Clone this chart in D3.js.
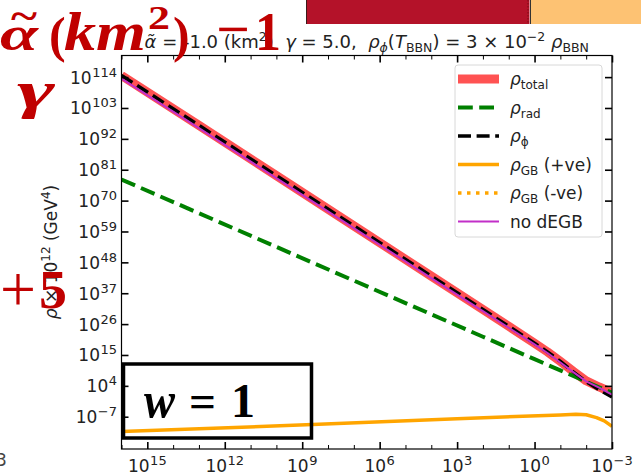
<!DOCTYPE html>
<html><head><meta charset="utf-8">
<script src="https://cdn.jsdelivr.net/npm/d3@7"></script>
<style>body{margin:0;background:#fff}svg{display:block}</style>
</head><body>
<svg id="chart" width="641" height="476"></svg>
<script>
// Energy densities vs temperature, stored as log10 values (T in GeV, rho x 1e12 in GeV^4)
const logT      = [16, 13, 10, 7, 4, 2, 1, 0, -0.5, -1, -1.5, -2, -2.5, -3];
const rhoTotal  = [114.6, 96.8, 78.9, 61.0, 43.1, 31.2, 25.2, 19.2, 16.1, 12.7, 9.15, 5.8, 3.6, 1.6];
const rhoRad    = [77.5, 65.5, 53.5, 41.5, 29.5, 21.5, 17.5, 13.5, 11.5, 9.5, 7.5, 5.5, 3.5, 1.6];
const rhoPhi    = [114.6, 96.8, 78.9, 61.0, 43.1, 31.2, 25.2, 19.2, 16.1, 12.7, 9.0, 5.5, 2.6, 0.0];
const rhoNoDEGB = [113.5, 95.8, 78.0, 60.2, 42.4, 30.6, 24.7, 18.8, 15.7, 12.3, 8.9, 5.6, 3.4, 0.9];
const logTGB    = [16, 8.6, 3, -1, -1.6, -2, -2.4, -2.7, -3];
const rhoGBpos  = [-12.3, -9.8, -7.7, -6.35, -6.1, -6.3, -7.3, -8.5, -10.4];

const xMajorExps = [15, 12, 9, 6, 3, 0, -3];
const xMinorExps = d3.range(16, -4, -1).filter(e => !xMajorExps.includes(e));
const yMajorExps = [-7, 4, 15, 26, 37, 48, 59, 70, 81, 92, 103, 114];

const legendItems = [
  {sym: "ρ", sub: "total", rest: "",       key: "total"},
  {sym: "ρ", sub: "rad",   rest: "",       key: "rad"},
  {sym: "ρ", sub: "ϕ",     rest: "",       key: "phi"},
  {sym: "ρ", sub: "GB",    rest: " (+ve)", key: "gbp"},
  {sym: "ρ", sub: "GB",    rest: " (-ve)", key: "gbn"},
  {sym: "",  sub: "",      rest: "no dEGB", key: "nodegb"}
];

const styles = {
  total:  {stroke: "#ff5252", width: 9,   dash: null},
  rad:    {stroke: "#008000", width: 4,   dash: "14.8,6.4"},
  phi:    {stroke: "#000000", width: 3.5, dash: "13,5.6"},
  gbp:    {stroke: "#ffa500", width: 3.5, dash: null},
  gbn:    {stroke: "#ffa500", width: 3.5, dash: "3.5,5.5"},
  nodegb: {stroke: "#c22fc8", width: 2,   dash: null}
};

const FONT = "'DejaVu Sans', sans-serif";
const svg = d3.select("#chart");
const L = 121.5, R = 612, T = 55.5, B = 449;

const x = d3.scaleLog().domain([1e16, 1e-3]).range([L, R]);
const y = d3.scaleLog().domain([Math.pow(10, -18.5), Math.pow(10, 121.7)]).range([B, T]);

svg.append("defs").append("clipPath").attr("id", "plotclip")
  .append("rect").attr("x", L).attr("y", T).attr("width", R - L).attr("height", B - T);

const plot = svg.append("g").attr("clip-path", "url(#plotclip)");
const line = d3.line().x(d => x(Math.pow(10, d[0]))).y(d => y(Math.pow(10, d[1])));

function drawSeries(ts, vals, key) {
  const s = styles[key];
  plot.append("path").datum(ts.map((t, i) => [t, vals[i]]))
    .attr("d", line).attr("fill", "none")
    .attr("stroke", s.stroke).attr("stroke-width", s.width)
    .attr("stroke-dasharray", s.dash)
    .attr("stroke-linejoin", "round");
}
drawSeries(logT, rhoTotal, "total");
drawSeries(logT, rhoRad, "rad");
drawSeries(logT, rhoPhi, "phi");
drawSeries(logTGB, rhoGBpos, "gbp");
drawSeries(logT, rhoNoDEGB, "nodegb");

// frame
svg.append("rect").attr("x", L).attr("y", T).attr("width", R - L).attr("height", B - T)
  .attr("fill", "none").attr("stroke", "#000").attr("stroke-width", 1.2);

// ticks (inward on all four sides)
function ticks(axisGen, transform, vals, len, w) {
  const g = svg.append("g").attr("transform", transform)
    .call(axisGen.tickValues(vals).tickSize(len).tickFormat(""));
  g.select(".domain").remove();
  g.selectAll("line").attr("stroke", "#000").attr("stroke-width", w);
}
const xMaj = xMajorExps.map(e => Math.pow(10, e));
const xMin = xMinorExps.map(e => Math.pow(10, e));
const yMaj = yMajorExps.map(e => Math.pow(10, e));
ticks(d3.axisBottom(x), `translate(0,${B})`, xMaj, -7, 1.6);
ticks(d3.axisBottom(x), `translate(0,${B})`, xMin, -4, 1);
ticks(d3.axisTop(x), `translate(0,${T})`, xMaj, -7, 1.6);
ticks(d3.axisTop(x), `translate(0,${T})`, xMin, -4, 1);
ticks(d3.axisLeft(y), `translate(${L},0)`, yMaj, -7, 1.6);
ticks(d3.axisRight(y), `translate(${R},0)`, yMaj, -7, 1.6);

// tick labels with superscript exponents
function powLabel(g, e) {
  g.append("tspan").text("10");
  g.append("tspan").attr("font-size", 13).attr("dx", 0.5).attr("dy", -7).text(e < 0 ? "−" + (-e) : e);
}
xMajorExps.forEach(e => {
  const t = svg.append("text").attr("x", x(Math.pow(10, e))).attr("y", 472)
    .attr("text-anchor", "middle").attr("font-family", FONT).attr("font-size", 17).attr("fill", "#222");
  powLabel(t, e);
});
yMajorExps.forEach(e => {
  const t = svg.append("text").attr("x", 117).attr("y", y(Math.pow(10, e)) + 6.5)
    .attr("text-anchor", "end").attr("font-family", FONT).attr("font-size", 17).attr("fill", "#222");
  powLabel(t, e);
});

// y axis label
const yl = svg.append("text").attr("transform", "translate(57,252) rotate(-90)")
  .attr("text-anchor", "middle").attr("font-family", FONT).attr("font-size", 17).attr("fill", "#222");
yl.append("tspan").attr("font-style", "italic").text("ρ");
yl.append("tspan").text(" × 10");
yl.append("tspan").attr("font-size", 12).attr("dy", -7).text("12");
yl.append("tspan").attr("dy", 7).text(" (GeV");
yl.append("tspan").attr("font-size", 12).attr("dy", -7).text("4");
yl.append("tspan").attr("dy", 7).text(")");

// title
const tt = svg.append("text").attr("x", (L + R) / 2).attr("y", 48).attr("xml:space", "preserve")
  .style("white-space", "pre")
  .attr("text-anchor", "middle").attr("font-family", FONT).attr("font-size", 18).attr("fill", "#222");
const tParts = [
  ["α̃", 0, "italic", 18], [" = -1.0 (km", 0, null, 18], ["2", -7, null, 12.5], [")  ", 7, null, 18],
  ["γ", 0, "italic", 18], [" = 5.0,  ", 0, null, 18], ["ρ", 0, "italic", 18], ["ϕ", 4, "italic", 12.5],
  ["(", -4, null, 18], ["T", 0, "italic", 18], ["BBN", 4, null, 12.5], [") = 3 × 10", -4, null, 18],
  ["−2", -7, null, 12.5], [" ", 7, null, 18], ["ρ", 0, "italic", 18], ["BBN", 4, null, 12.5]
];
tParts.forEach(p => {
  tt.append("tspan").attr("dy", p[1]).attr("font-style", p[2]).attr("font-size", p[3]).text(p[0]);
});

// legend
const lg = svg.append("g");
lg.append("rect").attr("x", 455).attr("y", 65).attr("width", 147).attr("height", 172)
  .attr("rx", 3).attr("fill", "#fff").attr("fill-opacity", 0.85).attr("stroke", "#d8d8d8");
legendItems.forEach((it, i) => {
  const cy = 79 + i * 28.5;
  const s = styles[it.key];
  lg.append("line").attr("x1", 458).attr("x2", 499).attr("y1", cy).attr("y2", cy)
    .attr("stroke", s.stroke).attr("stroke-width", s.width).attr("stroke-dasharray", s.dash);
  const t = lg.append("text").attr("x", 510).attr("y", cy + 6).attr("font-family", FONT)
    .attr("font-size", 17).attr("fill", "#222").style("white-space", "pre");
  if (it.sym) {
    t.append("tspan").attr("font-style", "italic").text(it.sym);
    t.append("tspan").attr("font-size", 12).attr("dy", 4).text(it.sub);
    t.append("tspan").attr("dy", -4).text(it.rest);
  } else {
    t.append("tspan").text(it.rest);
  }
});

// annotations laid over the figure
const RED = "#c00000", SERIF = "'Liberation Serif', 'DejaVu Serif', serif";
function ann(txt, px, py, size, italic, weight, color, len) {
  const t = svg.append("text").attr("x", px).attr("y", py).attr("font-family", SERIF)
    .attr("font-size", size).attr("font-style", italic ? "italic" : "normal")
    .attr("font-weight", weight || "bold").attr("fill", color || RED).text(txt);
  if (len) t.attr("textLength", len).attr("lengthAdjust", "spacingAndGlyphs");
  return t;
}
ann("α", 0, 50, 48, true, "bold", RED, 38);
ann("~", 11, 29, 40, false, "bold", RED, 26);
ann("(", 49, 52, 50, false);
ann("km", 64, 50, 54, true, "bold", RED, 82);
ann("2", 148, 29, 34, false, "bold", RED, 22);
ann(")", 173, 52, 50, false);
ann("−", 216, 46, 50, false, "bold", RED, 34);
ann("1", 255, 50, 54, false, "bold", RED, 26);
ann("γ", 17, 108, 52, true, "bold", RED, 38);
ann("+", 0, 311, 66, false, "normal", RED, 36);
ann("5", 39, 308, 54, false, "bold", RED, 28);

svg.append("rect").attr("x", 123.5).attr("y", 364).attr("width", 188).attr("height", 74)
  .attr("fill", "none").attr("stroke", "#000").attr("stroke-width", 3.5);
ann("w", 144, 417, 50, true, "bold", "#000", 31);
ann("=", 189, 417, 46, false, "bold", "#000", 27);
ann("1", 231, 417, 48, false, "bold", "#000", 24);

// strip of colour along the top edge
svg.append("rect").attr("x", 306.5).attr("y", 0).attr("width", 223).attr("height", 24).attr("fill", "#b41229");
svg.append("line").attr("x1", 306.5).attr("x2", 306.5).attr("y1", 0).attr("y2", 24).attr("stroke", "#3a1a1a").attr("stroke-width", 1);
svg.append("line").attr("x1", 528).attr("x2", 528).attr("y1", 0).attr("y2", 24).attr("stroke", "#7a0a14").attr("stroke-width", 1).attr("stroke-dasharray", "1.5,1.5");
svg.append("rect").attr("x", 531).attr("y", 0).attr("width", 110).attr("height", 24).attr("fill", "#fdc273");
svg.append("line").attr("x1", 530.5).attr("x2", 530.5).attr("y1", 0).attr("y2", 24).attr("stroke", "#333").attr("stroke-width", 1);
svg.append("text").attr("x", -4).attr("y", 466).attr("font-family", FONT).attr("font-size", 17).attr("fill", "#444").text("3");
</script>
</body></html>
